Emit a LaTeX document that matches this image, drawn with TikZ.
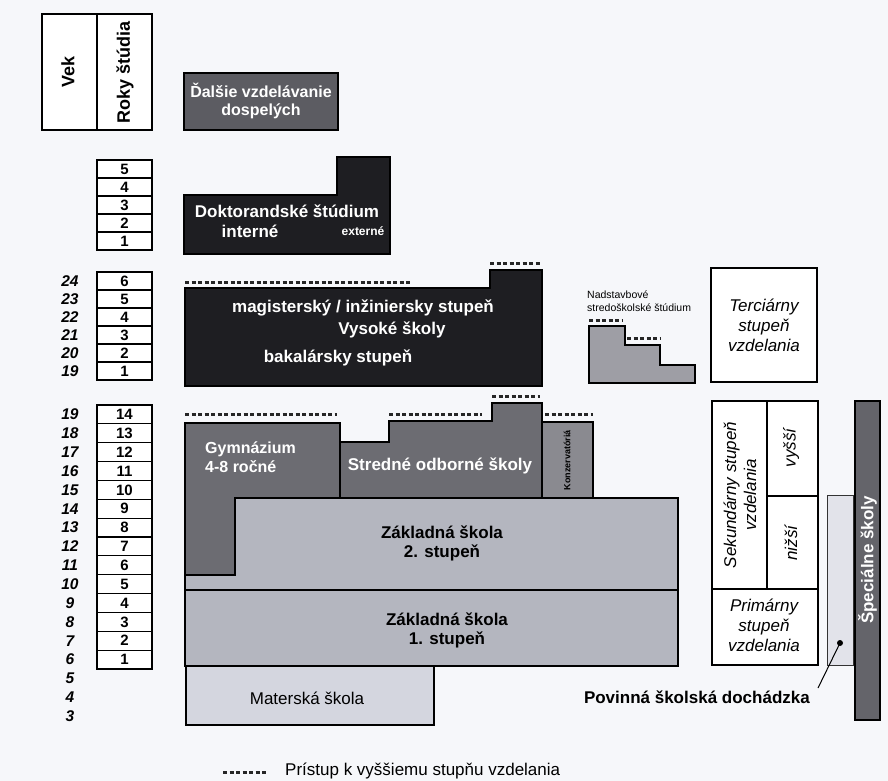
\documentclass[tikz,border=0pt]{standalone}
\usepackage{fontspec}
\setmainfont{Liberation Sans}
\definecolor{bg}{RGB}{246,247,250}
\definecolor{unifill}{RGB}{30,30,34}
\definecolor{adultfill}{RGB}{92,92,98}
\definecolor{secfill}{RGB}{108,108,114}
\definecolor{konzfill}{RGB}{138,138,144}
\definecolor{nadfill}{RGB}{158,158,165}
\definecolor{zsfill}{RGB}{180,182,191}
\definecolor{msfill}{RGB}{212,214,223}
\definecolor{specfill}{RGB}{100,100,106}
\definecolor{pddfill}{RGB}{226,227,234}
\begin{document}
\begin{tikzpicture}[x=1pt,y=-1pt,
  box/.style={draw=black,line width=1.6pt,line join=miter},
  yearbox/.style={draw=black,line width=1.2pt,fill=white},
  yearnum/.style={font=\bfseries\fontsize{15}{15}\selectfont,inner sep=0pt},
  agenum/.style={font=\bfseries\itshape\fontsize{15.5}{15}\selectfont,inner sep=0pt},
  big/.style={font=\bfseries\fontsize{17}{19}\selectfont,align=center,inner sep=0pt},
  lev/.style={font=\itshape\fontsize{17}{20}\selectfont,align=center,inner sep=0pt},
  access/.style={line width=3pt,dash pattern=on 4pt off 2.5pt,black!85}]
\useasboundingbox (0,0) rectangle (888,781);
\fill[bg] (0,0) rectangle (888,781);

% header
\draw[yearbox] (42,14) rectangle (152,130);
\draw[line width=1.2pt] (97,14) -- (97,130);
\node[big,font=\bfseries\fontsize{18}{18}\selectfont,rotate=90] (vek) at (68,72) {Vek};
\node[big,font=\bfseries\fontsize{18}{18}\selectfont,rotate=90] (roky) at (125,72) {Roky štúdia};

% years of study
\foreach \n [count=\i] in {5,4,3,2,1} {
  \draw[yearbox] (97,{160+(\i-1)*18}) rectangle (152,{160+\i*18});
  \node[yearnum] (doc\n) at (124.5,{169+(\i-1)*18}) {\n};
}
\foreach \n [count=\i] in {6,5,4,3,2,1} {
  \draw[yearbox] (97,{272+(\i-1)*18}) rectangle (152,{272+\i*18});
  \node[yearnum] (vs\n) at (124.5,{281+(\i-1)*18}) {\n};
}
\foreach \a in {19,...,24}
  \node[agenum] (age\a vs) at (70,{380-(\a-18.5)*18}) {\a};
\foreach \k in {1,...,14} {
  \draw[yearbox] (97,{669-\k*18.857}) rectangle (152,{669-(\k-1)*18.857});
  \node[yearnum] (zs\k) at (124.5,{669-(\k-0.5)*18.857}) {\k};
}
\foreach \a in {3,...,19}
  \node[agenum] (age\a) at (70,{669-(\a-5.5)*18.857}) {\a};

% dalsie vzdelavanie
\draw[box,fill=adultfill] (184,73) rectangle (338,130);
\node[big,text=white,font=\bfseries\fontsize{16}{18}\selectfont] (dalsie) at (261,101) {Ďalšie vzdelávanie\\dospelých};

% doktorandske studium
\draw[box,fill=unifill] (184,195) -- (337,195) -- (337,157) -- (390,157) -- (390,254) -- (184,254) -- cycle;
\node[big,text=white] (doktor) at (287,211) {Doktorandské štúdium};
\node[big,text=white] (interne) at (250,231) {interné};
\node[font=\bfseries\fontsize{12}{12}\selectfont,text=white,inner sep=0pt] (externe) at (363,231) {externé};

% vysoke skoly
\draw[box,fill=unifill] (185,288) -- (490,288) -- (490,270) -- (542,270) -- (542,386) -- (185,386) -- cycle;
\draw[access] (185,282) -- (410,282);
\draw[access] (490,263) -- (540,263);
\node[big,text=white] (mag) at (363,308) {magisterský / inžiniersky stupeň};
\node[big,text=white] (vs) at (392,330) {Vysoké školy};
\node[big,text=white] (bak) at (338,358) {bakalársky stupeň};

% nadstavbove studium
\node[font=\fontsize{10.5}{13}\selectfont,align=left,anchor=west,inner sep=0pt] (nadst) at (587,301) {Nadstavbové\\stredoškolské štúdium};
\draw[box,fill=nadfill] (589,326) -- (625,326) -- (625,345) -- (660,345) -- (660,365) -- (695,365) -- (695,383) -- (589,383) -- cycle;
\draw[access] (589,320) -- (622,320);
\draw[access] (627,338) -- (660,338);

% stupne vzdelania
\draw[yearbox] (711,268) rectangle (817,382);
\node[lev] (terc) at (764,325) {Terciárny\\stupeň\\vzdelania};
\draw[yearbox] (712,401) rectangle (818,589);
\draw[line width=1.2pt] (767,401) -- (767,589);
\draw[line width=1.2pt] (767,496) -- (818,496);
\node[lev,rotate=90] (sek) at (740,495) {Sekundárny stupeň\\vzdelania};
\node[lev,rotate=90] (vyssi) at (791,448) {vyšší};
\node[lev,rotate=90] (nizsi) at (791,543) {nižší};
\draw[yearbox] (712,589) rectangle (818,665);
\node[lev] (prim) at (764,625) {Primárny\\stupeň\\vzdelania};

% zakladna skola 2. stupen
\draw[box,fill=zsfill] (185,498) rectangle (678,590);
% gymnazium
\draw[box,fill=secfill] (185,423) -- (340,423) -- (340,498) -- (235,498) -- (235,575) -- (185,575) -- cycle;
\node[big,text=white,align=left,anchor=north west,font=\bfseries\fontsize{16}{19}\selectfont] (gym) at (205,442) {Gymnázium\\4-8 ročné};
% stredne odborne skoly
\draw[box,fill=secfill] (340,442) -- (389,442) -- (389,421) -- (492,421) -- (492,403) -- (542,403) -- (542,498) -- (340,498) -- cycle;
\node[big,text=white] (sos) at (440,466) {Stredné odborné školy};
% konzervatoria
\draw[box,fill=konzfill] (542,422) rectangle (593,498);
\node[font=\bfseries\fontsize{9}{9}\selectfont,rotate=90,inner sep=0pt] (konz) at (567,460) {Konzervatóriá};
\draw[access] (185,414) -- (337,414);
\draw[access] (389,414) -- (482,414);
\draw[access] (492,396) -- (540,396);
\draw[access] (545,414) -- (593,414);
\node[big] (zs2) at (442,543) {Základná škola\\2. stupeň};

% zakladna skola 1. stupen
\draw[box,fill=zsfill] (185,590) rectangle (678,666);
\node[big] (zs1) at (447,630) {Základná škola\\1. stupeň};

% materska skola
\draw[box,fill=msfill] (186,666) rectangle (434,725);
\node[font=\fontsize{17}{17}\selectfont,inner sep=0pt] (ms) at (307,698) {Materská škola};

% povinna skolska dochadzka
\draw[draw=black!80,line width=1pt,fill=pddfill] (827,495) rectangle (853,665);
\coordinate (pdot) at (840,643);
\fill (pdot) circle (3pt);
\node[big,anchor=east] (povinna) at (810,697) {Povinná školská dochádzka};
\draw[line width=1pt] ([xshift=8pt,yshift=9pt]povinna.east) -- (pdot);

% specialne skoly
\draw[box,fill=specfill] (855,401) rectangle (880,720);
\node[big,text=white,rotate=90] (spec) at (867.5,560) {Špeciálne školy};

% legenda
\draw[access] (223,772) -- (268,772);
\node[font=\fontsize{17}{17}\selectfont,anchor=west,inner sep=0pt] (legend) at (285,771) {Prístup k vyššiemu stupňu vzdelania};
\end{tikzpicture}
\end{document}
